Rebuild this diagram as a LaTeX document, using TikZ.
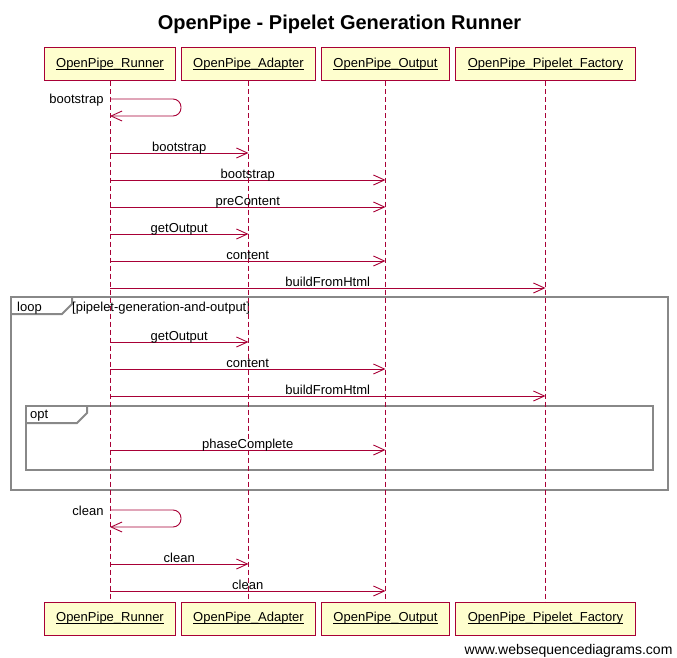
\documentclass[tikz,border=0pt]{standalone}
\usepackage{fontspec}
\setmainfont{Liberation Sans}
\usetikzlibrary{arrows.meta}
\definecolor{wsdred}{HTML}{A80036}
\definecolor{wsdfill}{HTML}{FEFECE}
\definecolor{wsdgray}{HTML}{888888}
\newcommand{\ulabel}[1]{\setbox0=\hbox{#1}\rlap{\rule[-1.8pt]{\wd0}{0.8pt}}\box0}
\tikzset{actor/.style = {draw=wsdred, fill=wsdfill, line width=1pt, minimum height=33pt, inner xsep=12pt, font=\fontsize{13}{15}\selectfont}}
\tikzset{lifeline/.style = {draw=wsdred, line width=0.8pt, dash pattern=on 5pt off 3pt}}
\tikzset{msg/.style = {draw=wsdred, line width=0.9pt, -{Straight Barb[length=11pt,width=10pt]}}}
\tikzset{msglabel/.style = {font=\fontsize{13}{15}\selectfont, inner sep=0pt}}
\tikzset{frame/.style = {draw=wsdgray, line width=2pt}}

\begin{document}
\begin{tikzpicture}[x=1pt,y=-1pt]
                    \useasboundingbox (0,0) rectangle (677,658);
                    \node[font=\bfseries\fontsize{20}{24}\selectfont] (title) at (339.5,24.5) {OpenPipe - Pipelet Generation Runner};

                    \draw[frame] (11,297) rectangle (668,490);
                    \draw[frame] (11,314) -- (62,314) -- (72,304) -- (72,297);
                    \draw[frame] (26,406) rectangle (653,470);
                    \draw[frame] (26,423) -- (77,423) -- (87,413) -- (87,406);
                    \node[msglabel, anchor=base west] (loopLbl) at (17,311) {loop};
                    \node[msglabel, anchor=base west] (loopCond) at (72,311) {[pipelet-generation-and-output]};
                    \node[msglabel, anchor=base west] (optLbl) at (30,418) {opt};

                    \foreach \n/\x/\txt in {run/110/OpenPipe\_Runner, ad/248.5/OpenPipe\_Adapter,
                                            out/385.5/OpenPipe\_Output, fac/545.5/OpenPipe\_Pipelet\_Factory} {
                      \node[actor] (\n-t) at (\x,64.5) {\ulabel{\txt}};
                      \node[actor] (\n-b) at (\x,618.5) {\ulabel{\txt}};
                      \draw[lifeline] (\n-t) -- (\n-b);
                    }

                    \draw[msg, rounded corners=8pt] (run-t |- 0,99) node[msglabel, anchor=base east, xshift=-6pt, yshift=-5pt] (bootLbl) {bootstrap}
                      -- ++(71,0) -- ++(0,17) -- (run-t |- 0,116);
                    \draw[msg, rounded corners=8pt] (run-t |- 0,510) node[msglabel, anchor=base east, xshift=-6pt, yshift=-5pt] (cleanLbl) {clean}
                      -- ++(71,0) -- ++(0,17) -- (run-t |- 0,527);

                    \foreach \y/\dst/\txt in {153/ad/bootstrap, 180/out/bootstrap, 207/out/preContent,
                                              234/ad/getOutput, 261/out/content, 288/fac/buildFromHtml,
                                              342/ad/getOutput, 369/out/content, 396/fac/buildFromHtml,
                                              450/out/phaseComplete, 564/ad/clean, 591/out/clean} {
                      \draw[msg] (run-t |- 0,\y) -- (\dst-t |- 0,\y) node[msglabel, midway, anchor=base, yshift=2pt] (m\y) {\txt};
                    }

                    \node[font=\fontsize{14}{16}\selectfont, anchor=east] (credit) at (676,651) {www.websequencediagrams.com};
                  \end{tikzpicture}
\end{document}
